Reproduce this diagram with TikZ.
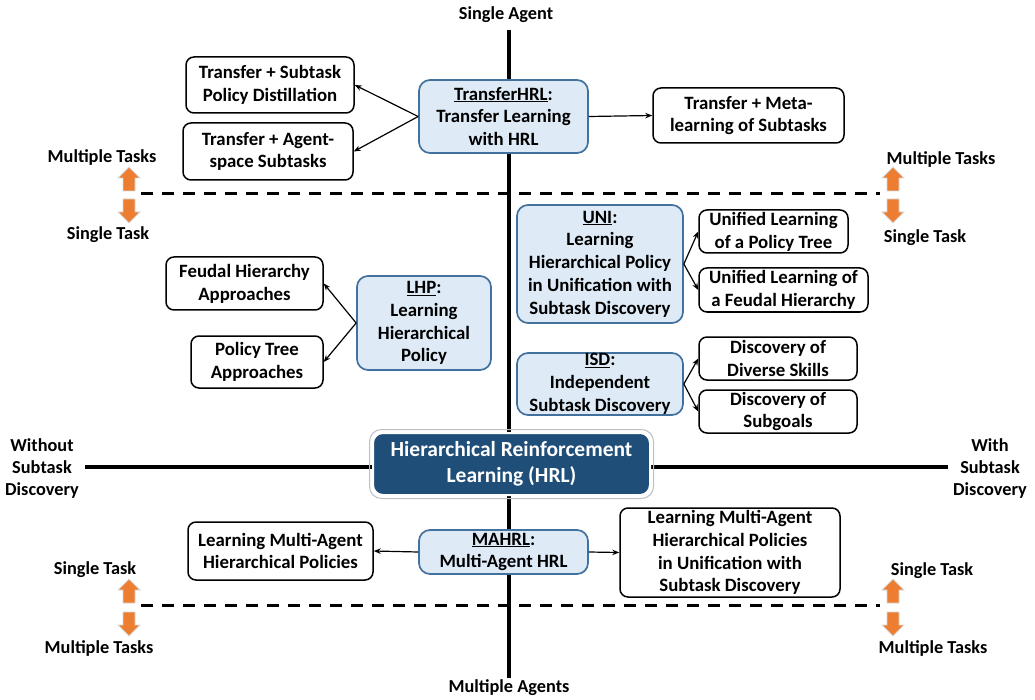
\documentclass[tikz,border=0pt]{standalone}
\usepackage{fontspec}
\setmainfont{Carlito}
\usetikzlibrary{arrows.meta}
\definecolor{lblue}{HTML}{DEEBF7}
\definecolor{bblue}{HTML}{41719C}
\definecolor{dblue}{HTML}{1F4E79}
\definecolor{orng}{HTML}{ED7D31}
\begin{document}
\begin{tikzpicture}[x=1pt,y=-1pt,
 every node/.style={font=\bfseries\fontsize{18.8}{22.8}\selectfont, align=center, inner sep=0pt},
 box/.style={draw=black, line width=1.5pt, rounded corners=8pt, fill=white},
 mainbox/.style={draw=bblue, line width=1.7pt, rounded corners=11pt, fill=lblue},
 hrlbox/.style={fill=dblue, draw=white, line width=2pt, rounded corners=10pt, text=white,
   font=\bfseries\fontsize{21.5}{26}\selectfont},
 conn/.style={line width=1.2pt, -{Stealth[length=7pt,width=5.5pt]}},
 axis/.style={line width=3.3pt},
 dashline/.style={line width=3pt, dash pattern=on 12pt off 9pt},
 lbl/.style={font=\bfseries\fontsize{18.3}{22}\selectfont},
 uparr/.pic={\path[fill=orng, draw=black!15, line width=0.9pt]
   (0,-12) -- (11,-1) -- (6,-1) -- (6,12) -- (-6,12) -- (-6,-1) -- (-11,-1) -- cycle;},
 downarr/.pic={\path[fill=orng, draw=black!15, line width=0.9pt]
   (0,12) -- (11,1) -- (6,1) -- (6,-12) -- (-6,-12) -- (-6,1) -- (-11,1) -- cycle;},
]
\useasboundingbox (0,0) rectangle (1035,700);

% axis labels
\node[lbl] (sa) at (506,15) {Single Agent};
\node[lbl] (ma) at (509,688) {Multiple Agents};
\node[lbl] (wo) at (42,469) {Without\\Subtask\\Discovery};
\node[lbl] (wi) at (990,469) {With\\Subtask\\Discovery};

% axes
\draw[axis] (509,30) -- (509,678);
\draw[axis] (85,467) -- (948,467);

% dashed task separators
\draw[dashline] (141,194) -- (880,194);
\draw[dashline] (141,605) -- (880,605);

% task labels and orange arrows
\node[lbl] (tl1) at (102,158) {Multiple Tasks};
\node[lbl] (tl2) at (108,235) {Single Task};
\pic at (129,179) {uparr};
\pic at (129,211) {downarr};
\node[lbl] (tr1) at (941,160) {Multiple Tasks};
\node[lbl] (tr2) at (925,238) {Single Task};
\pic at (893,179) {uparr};
\pic at (893,211) {downarr};
\node[lbl] (bl1) at (95,570) {Single Task};
\node[lbl] (bl2) at (99,648) {Multiple Tasks};
\pic at (129,591) {uparr};
\pic at (129,624) {downarr};
\node[lbl] (br1) at (932,571) {Single Task};
\node[lbl] (br2) at (933,648) {Multiple Tasks};
\pic at (893,591) {uparr};
\pic at (893,624) {downarr};

% center
\node[hrlbox, minimum width=277, minimum height=62] (hrl) at (511.5,464) {Hierarchical Reinforcement\\Learning (HRL)};
\draw[black!25, line width=1pt, rounded corners=12pt] ([shift={(-2.5,-2.5)}]hrl.north west) rectangle ([shift={(2.5,2.5)}]hrl.south east);

% TransferHRL
\node[mainbox, minimum width=169, minimum height=73] (thrl) at (503.5,116.5) {\underline{TransferHRL}:\\Transfer Learning\\with HRL};
\node[box, minimum width=168, minimum height=56] (tsp) at (270,85) {Transfer + Subtask\\Policy Distillation};
\node[box, minimum width=170, minimum height=57] (tas) at (268,151.5) {Transfer + Agent-\\space Subtasks};
\node[box, minimum width=191, minimum height=55] (tml) at (748.5,115.5) {Transfer + Meta-\\learning of Subtasks};
\draw[conn] (thrl.west) -- (tsp.east);
\draw[conn] (thrl.west) -- (tas.east);
\draw[conn] (thrl.east) -- (tml.west);

% LHP
\node[mainbox, minimum width=134, minimum height=94] (lhp) at (424,323) {\underline{LHP}:\\Learning\\Hierarchical\\Policy};
\node[box, minimum width=157, minimum height=53] (fha) at (244.5,283.5) {Feudal Hierarchy\\Approaches};
\node[box, minimum width=132, minimum height=52] (pta) at (257,362) {Policy Tree\\Approaches};
\draw[conn] (lhp.west) -- (fha.east);
\draw[conn] (lhp.west) -- (pta.east);

% UNI
\node[mainbox, minimum width=166, minimum height=118] (uni) at (600,264) {\underline{UNI}:\\Learning\\Hierarchical Policy\\in Unification with\\Subtask Discovery};
\node[box, minimum width=149, minimum height=43] (ulpt) at (773.5,231.5) {Unified Learning\\of a Policy Tree};
\node[box, minimum width=169, minimum height=44] (ulfh) at (783.5,290) {Unified Learning of\\a Feudal Hierarchy};
\draw[conn] (uni.east) -- (ulpt.west);
\draw[conn] (uni.east) -- (ulfh.west);

% ISD
\node[mainbox, minimum width=166, minimum height=62] (isd) at (600,384) {\underline{ISD}:\\Independent\\Subtask Discovery};
\node[box, minimum width=158, minimum height=43] (dds) at (778,358.5) {Discovery of\\Diverse Skills};
\node[box, minimum width=158, minimum height=43] (dsg) at (778,411.5) {Discovery of\\Subgoals};
\draw[conn] (isd.east) -- (dds.west);
\draw[conn] (isd.east) -- (dsg.west);

% MAHRL
\node[mainbox, minimum width=169, minimum height=44] (mahrl) at (503.5,552) {\underline{MAHRL}:\\Multi-Agent HRL};
\node[box, minimum width=185, minimum height=58] (lmahp) at (280.5,551) {Learning Multi-Agent\\Hierarchical Policies};
\node[box, minimum width=220, minimum height=89] (lmahpu) at (730,552.5) {Learning Multi-Agent\\Hierarchical Policies\\in Unification with\\Subtask Discovery};
\draw[conn] (mahrl.west) -- (lmahp.east);
\draw[conn] (mahrl.east) -- (lmahpu.west);
\end{tikzpicture}
\end{document}
